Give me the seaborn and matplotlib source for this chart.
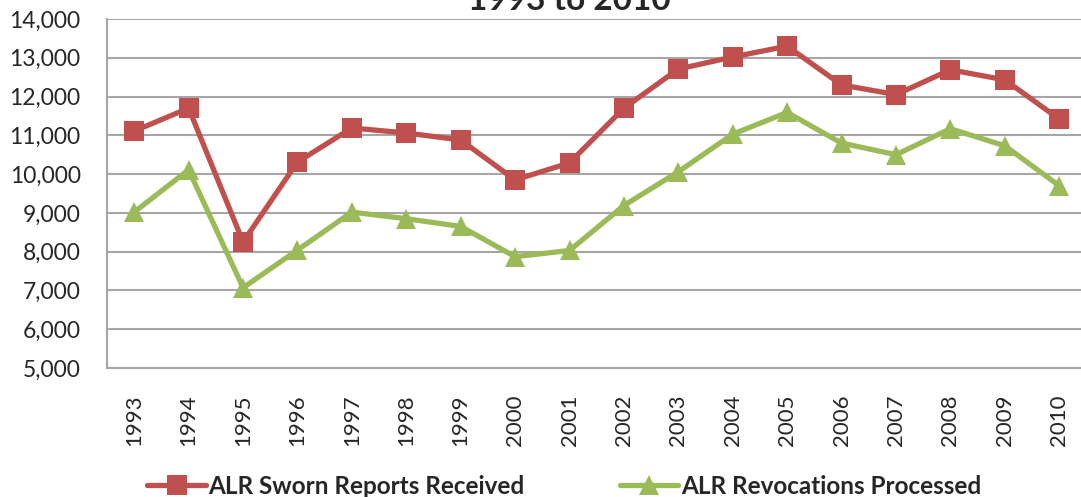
import numpy as np
import pandas as pd
import matplotlib
matplotlib.use("Agg")
import matplotlib.pyplot as plt
import seaborn as sns
from matplotlib.ticker import FuncFormatter

# values
years = [1993, 1994, 1995, 1996, 1997, 1998, 1999, 2000, 2001,
         2002, 2003, 2004, 2005, 2006, 2007, 2008, 2009, 2010]
sworn_reports = [11110, 11700, 8250, 10310, 11190, 11060, 10880, 9850, 10290,
                 11700, 12710, 13020, 13300, 12300, 12050, 12690, 12430, 11420]
revocations = [9020, 10110, 7070, 8040, 9020, 8850, 8650, 7870, 8030,
               9190, 10060, 11030, 11590, 10800, 10500, 11170, 10730, 9700]
series_names = ["ALR Sworn Reports Received", "ALR Revocations Processed"]
title_text = "1993 to 2010"

red = "#C0504D"
green = "#9BBB59"
grid_grey = "#A6A6A6"


def main():
    df = pd.DataFrame({
        "idx": list(range(len(years))) * 2,
        "value": sworn_reports + revocations,
        "series": [series_names[0]] * len(years) + [series_names[1]] * len(years),
    })

    sns.set_style("white")
    plt.rcParams["font.family"] = ["Lato", "DejaVu Sans"]

    fig = plt.figure(figsize=(10.81, 4.97), dpi=100)
    ax = fig.add_axes([0.099, 0.2596, 0.906, 0.7022])

    sns.lineplot(data=df, x="idx", y="value", hue="series", style="series",
                 palette=[red, green], markers=["s", "^"], dashes=False,
                 linewidth=3.8, markersize=14, markeredgewidth=0,
                 ax=ax, legend=True)

    ax.set_ylim(5000, 14000)
    ax.set_yticks(np.arange(5000, 14001, 1000))
    ax.yaxis.set_major_formatter(FuncFormatter(lambda v, p: f"{int(v):,}"))
    ax.set_xlim(-0.5, len(years) - 0.5)
    ax.set_xticks(range(len(years)))
    ax.set_xticklabels([str(y) for y in years], rotation=90)
    ax.set_xticks(np.arange(-0.5, len(years), 1.0), minor=True)
    ax.tick_params(axis="x", which="major", length=0, pad=19, labelsize=16)
    ax.tick_params(axis="x", which="minor", length=7, width=1.3, color=grid_grey)
    ax.tick_params(axis="y", length=7, width=1.3, color=grid_grey, labelsize=16.5, pad=12)
    ax.set_xlabel("")
    ax.set_ylabel("")

    ax.grid(axis="y", color=grid_grey, linewidth=1.5)
    ax.set_axisbelow(True)
    for side in ["top", "right"]:
        ax.spines[side].set_visible(False)
    for side in ["left", "bottom"]:
        ax.spines[side].set_color(grid_grey)
        ax.spines[side].set_linewidth(1.5)

    handles, labels = ax.get_legend_handles_labels()
    ax.get_legend().remove()
    fig.legend(handles, labels, loc="center", bbox_to_anchor=(0.522, 0.022),
               ncol=2, frameon=False, handlelength=2.4, columnspacing=3.9,
               handletextpad=0.12, prop={"weight": "bold", "size": 17.5})

    fig.text(0.527, 0.98, title_text, ha="center", va="baseline",
             fontsize=24, fontweight="bold")

    fig.savefig("out.png", dpi=100)


if __name__ == "__main__":
    main()
